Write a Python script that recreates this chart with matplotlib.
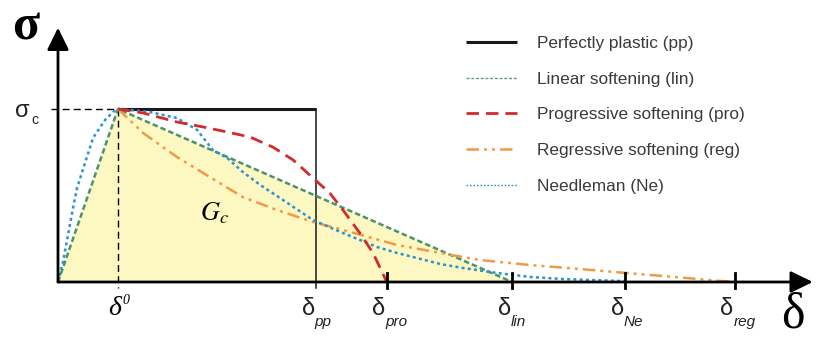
"""
Traction-separation laws for cohesive zones (sketch).
"""
import matplotlib.pyplot as plt

# characteristic openings (delta_0 = 1, sigma_c = 1)
d0 = 1.0
d_pp = 4.30
d_pro = 5.48
d_lin = 7.57
d_ne = 9.45
d_reg = 11.28
d_end = 12.58
s_top = 1.47

# progressive softening
pro_x = [1.0, 1.42, 1.98, 2.42, 2.82, 3.2, 3.58, 3.92, 4.25, 4.53, 4.75, 5.03, 5.25, 5.48]
pro_y = [1.0, 0.977, 0.925, 0.896, 0.867, 0.838, 0.780, 0.705, 0.601, 0.514, 0.416,
         0.283, 0.168, 0.0]

# regressive softening
reg_x = [1.0, 1.42, 1.98, 2.53, 3.08, 3.65, 4.25, 4.75, 5.65, 6.37, 7.03,
         7.87, 8.7, 9.48, 10.48, 11.03, 11.45]
reg_y = [1.0, 0.861, 0.723, 0.607, 0.491, 0.416, 0.347, 0.301, 0.214,
         0.168, 0.127, 0.098, 0.075, 0.052, 0.023, 0.006, 0.0]

# Needleman
ne_x = [0.0, 0.083, 0.167, 0.25, 0.317, 0.583, 0.783, 0.917, 1.0, 1.53, 1.98, 2.32,
        2.58, 2.82, 3.08, 3.37, 3.75, 4.25, 4.75, 5.32, 5.65, 6.37, 6.75, 7.32,
        7.87, 8.42, 9.45]
ne_y = [0.0, 0.116, 0.272, 0.428, 0.543, 0.832, 0.936, 0.983, 1.0, 0.983, 0.948, 0.879,
        0.763, 0.717, 0.636, 0.561, 0.474, 0.358, 0.283, 0.202, 0.168, 0.104,
        0.081, 0.052, 0.029, 0.017, 0.005]

lin_x = [0.0, d0, d_lin]
lin_y = [0.0, 1.0, 0.0]

pp_x = [d0, d_pp, d_pp]
pp_y = [1.0, 1.0, 0.0]

tick_pos = [d_pro, d_lin, d_ne, d_reg]
tick_names = ["pro", "lin", "Ne", "reg"]

labels = ["Perfectly plastic (pp)", "Linear softening (lin)",
          "Progressive softening (pro)", "Regressive softening (reg)",
          "Needleman (Ne)"]

plt.rcParams["font.family"] = ["Liberation Sans", "DejaVu Sans"]
plt.rcParams["mathtext.fontset"] = "stix"

fig = plt.figure(figsize=(8.17, 3.39), dpi=100)
ax = fig.add_axes([0, 0, 1, 1])
ax.set_xlim(-58 / 60, (817 - 58) / 60)
ax.set_ylim(-(339 - 282) / 173, 282 / 173)
ax.axis("off")

# area under linear law
ax.fill(lin_x, lin_y, color="#fdf8c2", lw=0, zorder=1)

# guides to sigma_c / delta_0
ax.plot([-0.12, d0], [1, 1], color="black", lw=1.0, ls=(0, (5, 3)), zorder=2)
ax.plot([d0, d0], [1, -0.035], color="black", lw=1.0, ls=(0, (5, 3)), zorder=2)

# curves
h_pp, = ax.plot(pp_x[:2], pp_y[:2], color="#1a1a1a", lw=2.2, zorder=4,
                solid_capstyle="butt")
ax.plot(pp_x[1:], pp_y[1:], color="#1a1a1a", lw=1.1, zorder=4)
ax.plot([d_pp, d_pp], [0, -0.035], color="#1a1a1a", lw=1.1, zorder=4)
h_lin, = ax.plot(lin_x, lin_y, color="#4a9468", lw=1.8, ls=(0, (2.2, 1.2)), zorder=5)
h_pro, = ax.plot(pro_x, pro_y, color="#d42a2a", lw=2.0, ls=(0, (4.5, 2.5)), zorder=6)
h_reg, = ax.plot(reg_x, reg_y, color="#ef9a48", lw=1.8,
                 ls=(0, (5, 2, 1.2, 2, 1.2, 2)), zorder=5)
h_ne, = ax.plot(ne_x, ne_y, color="#2a92d2", lw=1.8, ls=(0, (1.2, 1.3)), zorder=5)

# axes with arrows
arrow = dict(arrowstyle="-|>,head_length=0.45,head_width=0.22", color="black",
             lw=2.0, mutation_scale=30, shrinkA=0, shrinkB=0)
ax.annotate("", xy=(d_end, 0), xytext=(0, 0), arrowprops=arrow, zorder=7)
ax.annotate("", xy=(0, s_top), xytext=(0, 0), arrowprops=arrow, zorder=7)

for p in tick_pos:
    ax.plot([p, p], [0.05, -0.035], color="black", lw=2.0, zorder=7)

# labels
ax.text(-0.76, 1.47, "σ", fontsize=36, family="Liberation Serif", weight="bold",
        ha="left", va="center")
ax.text(-0.60, 0.99, "σ", fontsize=17, ha="center", va="center", color="#222")
ax.text(-0.44, 0.935, "c", fontsize=10, ha="left", va="center", color="#222")
ax.text(d0 - 0.05, -0.08, "δ", fontsize=20, family="Liberation Serif", style="italic",
        ha="center", va="top")
ax.text(d0 + 0.08, -0.07, "0", fontsize=10, family="Liberation Serif", style="italic",
        ha="left", va="top")
ax.text(2.6, 0.40, "$G_c$", fontsize=19, ha="center", va="center")

for p, name in zip([d_pp] + tick_pos, ["pp"] + tick_names):
    ax.text(p - 0.02, -0.09, "δ", fontsize=17, ha="right", va="top", color="#222")
    ax.text(p - 0.02, -0.19, name, fontsize=11, style="italic", ha="left", va="top",
            color="#222")

ax.text(12.05, -0.325, "δ", fontsize=36, family="Liberation Serif", ha="left",
        va="bottom")

leg = ax.legend([h_pp, h_lin, h_pro, h_reg, h_ne], labels,
                loc="upper left", bbox_to_anchor=(466 / 817, 1 - 36 / 339),
                frameon=False, fontsize=12.4, handlelength=2.95, handletextpad=1.15,
                labelspacing=1.2, borderpad=0, borderaxespad=0)
for t in leg.get_texts():
    t.set_color("#3a3a3a")
lh = leg.legend_handles
lh[1].set_linewidth(1.0)
lh[1].set_color("#6f9a88")
lh[4].set_linewidth(1.0)

fig.savefig("out.png", dpi=100)
